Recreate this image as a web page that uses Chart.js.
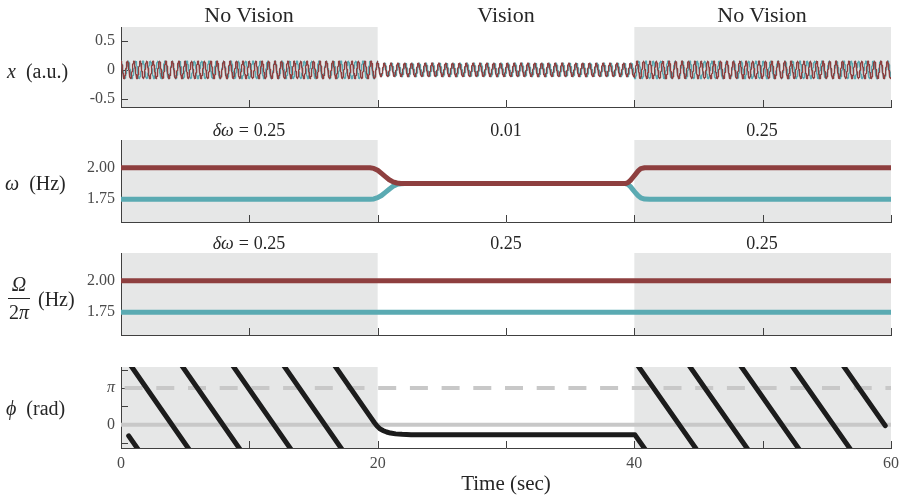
<!DOCTYPE html>
<html>
<head>
<meta charset="utf-8">
<script src="https://cdn.jsdelivr.net/npm/chart.js@4"></script>
<style>
  body { margin: 0; background: #ffffff; }
  #wrap { position: relative; width: 900px; height: 498px; overflow: hidden;
          font-family: "Liberation Serif", "Times New Roman", serif; color: #262626; }
  canvas { position: absolute; left: 0; top: 0; }
  .t { position: absolute; white-space: nowrap; transform: translate(-50%, -50%); line-height: 1; }
  .l { position: absolute; white-space: nowrap; transform: translate(0, -50%); line-height: 1; }
  .title { font-size: 22px; }
  .ann { font-size: 18px; }
  .ylab { font-size: 20px; }
  .eq { padding: 0 5px; }
</style>
</head>
<body>
<div id="wrap">
  <canvas id="cX" width="900" height="498"></canvas>
  <canvas id="cW" width="900" height="498"></canvas>
  <canvas id="cN" width="900" height="498"></canvas>
  <canvas id="cP" width="900" height="498"></canvas>

  <div class="t title" style="left:249px; top:15px;">No Vision</div>
  <div class="t title" style="left:506px; top:15px;">Vision</div>
  <div class="t title" style="left:762px; top:15px;">No Vision</div>

  <div class="t ann" style="left:249px; top:129.5px;"><i>δω</i><span class="eq">=</span>0.25</div>
  <div class="t ann" style="left:506px; top:129.5px;">0.01</div>
  <div class="t ann" style="left:762px; top:129.5px;">0.25</div>

  <div class="t ann" style="left:249px; top:243px;"><i>δω</i><span class="eq">=</span>0.25</div>
  <div class="t ann" style="left:506px; top:243px;">0.25</div>
  <div class="t ann" style="left:762px; top:243px;">0.25</div>

  <div class="l ylab" style="left:7px; top:70.5px;"><i>x</i>&nbsp;&nbsp;(a.u.)</div>
  <div class="l ylab" style="left:5px; top:183px;"><i>ω</i>&nbsp;&nbsp;(Hz)</div>
  <div class="t ylab" style="left:19px; top:283.5px;"><i>Ω</i></div>
  <div style="position:absolute; left:8px; top:297.5px; width:22px; height:1px; background:#262626;"></div>
  <div class="t ylab" style="left:19px; top:311.5px;">2<i>π</i></div>
  <div class="l ylab" style="left:38px; top:299px;">(Hz)</div>
  <div class="l ylab" style="left:6px; top:408px;"><i>ϕ</i>&nbsp;&nbsp;(rad)</div>

  <div class="t" style="left:506px; top:483px; font-size:21px;">Time (sec)</div>
</div>

<script>
// ---------------- data ----------------
const timeTicks = [0, 10, 20, 30, 40, 50, 60];
const timeTickLabels = ['0', '', '20', '', '40', '', '60'];
const epochBounds = [0, 20, 40, 60];
const shadedEpochs = [[0, 20], [40, 60]];

const xTicks = [-0.5, 0, 0.5];
const xTickLabels = ['-0.5', '0', '0.5'];
const freqTicks = [1.75, 2.00];
const freqTickLabels = ['1.75', '2.00'];
const phiTicks = [-Math.PI / 2, 0, Math.PI / 2, Math.PI, 3 * Math.PI / 2];
const phiTickLabels = ['', '0', '', 'π', ''];

// instantaneous frequency (Hz)
const omegaTime = [0, 19.4, 19.7, 20.0, 20.3, 20.6, 20.9, 21.2, 21.5, 21.8, 22.1,
                   39.3, 39.5, 39.7, 39.9, 40.1, 40.3, 40.5, 40.8, 41.2, 60];
const omegaRed  = [2.00, 2.00, 1.995, 1.98, 1.955, 1.93, 1.905, 1.888, 1.879, 1.876, 1.875,
                   1.875, 1.882, 1.90, 1.925, 1.95, 1.975, 1.993, 2.00, 2.00, 2.00];
const omegaCyan = [1.75, 1.75, 1.753, 1.763, 1.78, 1.805, 1.83, 1.853, 1.868, 1.873, 1.875,
                   1.875, 1.868, 1.85, 1.825, 1.80, 1.778, 1.762, 1.752, 1.75, 1.75];

// natural frequency Omega / 2pi (Hz)
const naturalTime = [0, 60];
const naturalRed  = [2.00, 2.00];
const naturalCyan = [1.75, 1.75];

// oscillation amplitude per epoch (a.u.)
const xAmplitude = [0.15, 0.115, 0.15];

// relative phase, unwrapped (rad)
const phiTime = [0.6, 19.5, 19.75, 19.95, 20.15, 20.4, 20.7, 21.0, 21.4, 21.9, 22.6, 40.05, 59.55];
const phiUnwrapped = [-0.96, -30.86, -31.256, -31.536, -31.746, -31.916, -32.046, -32.136,
                      -32.206, -32.246, -32.276, -32.286, -62.916];
const phiRefTime = [0, 60];
const phiZero = [0, 0];
const phiPi = [Math.PI, Math.PI];

// ---------------- style ----------------
const FONT = '"Liberation Serif", "Times New Roman", serif';
const RED = '#8e3f3f';
const CYAN = '#5aaab2';
const SHADE = '#e6e7e7';
const AXIS = '#404040';
const TICKC = '#4a4a4a';
const REFGRAY = '#c8c8c8';
const BLACK = '#1c1c1c';

// ---------------- helpers ----------------
function pts(ts, vs, off) { return ts.map((t, i) => ({ x: t, y: vs[i] + (off || 0) })); }
function lerp(ts, vs, t) {
  if (t <= ts[0]) return vs[0];
  for (let i = 1; i < ts.length; i++) {
    if (t <= ts[i]) { const f = (t - ts[i - 1]) / (ts[i] - ts[i - 1]); return vs[i - 1] + f * (vs[i] - vs[i - 1]); }
  }
  return vs[vs.length - 1];
}
function ampAt(t) { for (let e = 0; e < 3; e++) if (t < epochBounds[e + 1]) return xAmplitude[e]; return xAmplitude[2]; }
function oscillation(freqs) {
  const out = []; const dt = 0.01; let th = 0;
  for (let i = 0; i <= 6000; i++) {
    const t = i * dt;
    if (i > 0) th += 2 * Math.PI * 0.5 * (lerp(omegaTime, freqs, t - dt) + lerp(omegaTime, freqs, t)) * dt;
    out.push({ x: t, y: ampAt(t) * Math.cos(th) });
  }
  return out;
}

const decorPlugin = {
  id: 'decor',
  beforeDraw(chart) {
    const { ctx, chartArea: a, scales: { x } } = chart;
    ctx.save();
    ctx.fillStyle = SHADE;
    shadedEpochs.forEach(([s, e]) => {
      const x0 = x.getPixelForValue(s), x1 = x.getPixelForValue(e);
      ctx.fillRect(x0, a.top, x1 - x0, a.bottom - a.top);
    });
    ctx.restore();
  },
  beforeDatasetsDraw(chart) {
    const { ctx, chartArea: a, scales: { x, y } } = chart;
    ctx.save();
    ctx.strokeStyle = AXIS; ctx.lineWidth = 1;
    ctx.beginPath();
    x.ticks.forEach(t => {
      const px = Math.round(x.getPixelForValue(t.value)) + 0.5;
      ctx.moveTo(px, a.bottom); ctx.lineTo(px, a.bottom - 7);
    });
    y.ticks.forEach(t => {
      const py = Math.round(y.getPixelForValue(t.value)) + 0.5;
      ctx.moveTo(a.left, py); ctx.lineTo(a.left + 7, py);
    });
    ctx.stroke();
    ctx.restore();
  }
};

function xScale(showLabels) {
  return {
    type: 'linear', min: 0, max: 60,
    afterBuildTicks(s) { s.ticks = timeTicks.map(v => ({ value: v })); },
    afterFit(s) { s.height = 20; s.paddingLeft = 0; s.paddingRight = 0; },
    grid: { display: false, drawTicks: false },
    border: { display: true, color: AXIS, width: 1 },
    ticks: {
      display: showLabels, padding: 6, color: TICKC, maxRotation: 0, autoSkip: false,
      font: { family: FONT, size: 16 },
      callback: (v) => timeTickLabels[timeTicks.indexOf(v)]
    }
  };
}
function yScale(min, max, tickVals, tickLabels) {
  return {
    type: 'linear', min: min, max: max,
    afterBuildTicks(s) { s.ticks = tickVals.map(v => ({ value: v })); },
    afterFit(s) { s.width = 121; s.paddingTop = 0; s.paddingBottom = 0; },
    grid: { display: false, drawTicks: false },
    border: { display: true, color: AXIS, width: 1 },
    ticks: {
      padding: 6, color: TICKC, autoSkip: false,
      font: (c) => ({ family: FONT, size: 16, style: (c.tick && tickLabels[tickVals.indexOf(c.tick.value)] === 'π') ? 'italic' : 'normal' }),
      callback: (v) => tickLabels[tickVals.indexOf(v)]
    }
  };
}
function baseOptions(top, bottom, yCfg, showX) {
  return {
    responsive: false, animation: false, devicePixelRatio: 1,
    layout: { padding: { left: 0, right: 9, top: top, bottom: 498 - bottom - 20 } },
    plugins: { legend: { display: false }, tooltip: { enabled: false } },
    elements: { point: { radius: 0 }, line: { tension: 0, borderJoinStyle: 'round' } },
    scales: { x: xScale(showX), y: yCfg }
  };
}
function line(data, color, width, order, extra) {
  return Object.assign({ data: data, borderColor: color, borderWidth: width, pointRadius: 0,
    fill: false, order: order, clip: 0, borderCapStyle: 'butt' }, extra || {});
}

// ---------------- charts ----------------
new Chart(document.getElementById('cX'), {
  type: 'line',
  data: { datasets: [
    line(oscillation(omegaCyan), CYAN, 1.3, 2),
    line(oscillation(omegaRed), RED, 1.3, 1)
  ] },
  options: baseOptions(27, 107, yScale(-0.64, 0.74, xTicks, xTickLabels), false),
  plugins: [decorPlugin]
});

new Chart(document.getElementById('cW'), {
  type: 'line',
  data: { datasets: [
    line(pts(omegaTime, omegaCyan), CYAN, 5, 2),
    line(pts(omegaTime, omegaRed), RED, 5, 1)
  ] },
  options: baseOptions(140, 222, yScale(1.57, 2.22, freqTicks, freqTickLabels), false),
  plugins: [decorPlugin]
});

new Chart(document.getElementById('cN'), {
  type: 'line',
  data: { datasets: [
    line(pts(naturalTime, naturalCyan), CYAN, 5, 2),
    line(pts(naturalTime, naturalRed), RED, 5, 1)
  ] },
  options: baseOptions(253, 335, yScale(1.57, 2.22, freqTicks, freqTickLabels), false),
  plugins: [decorPlugin]
});

const phiSets = [
  line(pts(phiRefTime, phiZero), REFGRAY, 4, 20),
  line(pts(phiRefTime, phiPi), REFGRAY, 4, 21, { borderDash: [18, 13.7], borderDashOffset: 28.1 })
];
for (let k = 0; k <= 11; k++) {
  phiSets.push(line(pts(phiTime, phiUnwrapped, 2 * Math.PI * k), BLACK, 5, 1, { borderCapStyle: 'round' }));
}
new Chart(document.getElementById('cP'), {
  type: 'line',
  data: { datasets: phiSets },
  options: baseOptions(367, 448, yScale(-2.0, 4.94, phiTicks, phiTickLabels), true),
  plugins: [decorPlugin]
});
</script>
</body>
</html>
